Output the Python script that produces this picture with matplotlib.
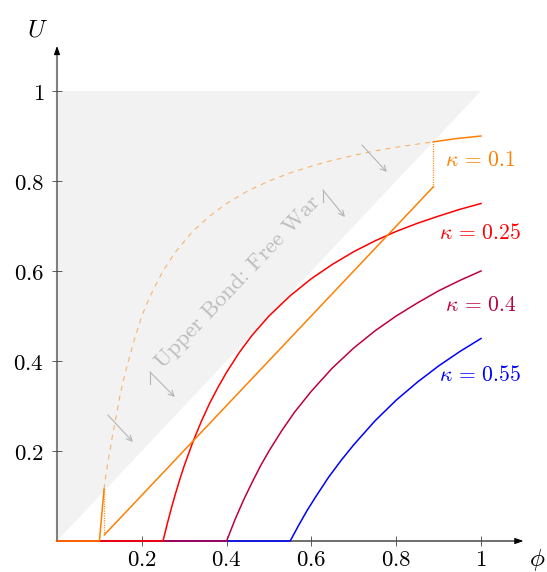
import matplotlib
matplotlib.use('Agg')
import matplotlib.pyplot as plt

plt.rcParams['mathtext.fontset'] = 'cm'

# valori
kappa_labels = [r'$\kappa\,=\,0.1$', r'$\kappa\,=\,0.25$', r'$\kappa\,=\,0.4$', r'$\kappa\,=\,0.55$']
kappa_colors = ['#ff8000', '#ff0000', '#bf0040', '#0000ff']

phi_055 = [0, 0.55, 0.57, 0.59, 0.61, 0.64, 0.67, 0.7, 0.75, 0.8, 0.85, 0.9, 0.95, 1.0]
U_055 = [0, 0, 0.035, 0.068, 0.098, 0.141, 0.179, 0.214, 0.267, 0.313, 0.353, 0.389, 0.421, 0.45]

phi_04 = [0, 0.4, 0.42, 0.44, 0.46, 0.48, 0.5, 0.53, 0.56, 0.6, 0.65, 0.7, 0.75, 0.8, 0.85, 0.9, 0.95, 1.0]
U_04 = [0, 0, 0.048, 0.091, 0.13, 0.167, 0.2, 0.245, 0.286, 0.333, 0.385, 0.429, 0.467, 0.5, 0.529,
        0.556, 0.579, 0.6]

phi_025 = [0, 0.25, 0.26, 0.27, 0.28, 0.29, 0.3, 0.32, 0.34, 0.36, 0.38, 0.4, 0.43, 0.46, 0.5, 0.55,
           0.6, 0.65, 0.7, 0.75, 0.8, 0.85, 0.9, 0.95, 1.0]
U_025 = [0, 0, 0.038, 0.074, 0.107, 0.138, 0.167, 0.219, 0.265, 0.306, 0.342, 0.375, 0.419, 0.457, 0.5,
         0.545, 0.583, 0.615, 0.643, 0.667, 0.688, 0.706, 0.722, 0.737, 0.75]

# kappa = 0.1 : bucati separate
phi_01_start = [0, 0.1, 0.111]
U_01_start = [0, 0, 0.115]
phi_01_line = [0.112, 0.8875]
U_01_line = [0.014, 0.787]
phi_01_end = [0.8875, 0.94, 1.0]
U_01_end = [0.887, 0.894, 0.9]
phi_01_jump1 = [0.111, 0.111]
U_01_jump1 = [0.115, 0.014]
phi_01_jump2 = [0.8875, 0.8875]
U_01_jump2 = [0.787, 0.887]
phi_01_dash = [0.111, 0.115, 0.12, 0.125, 0.13, 0.14, 0.15, 0.16, 0.18, 0.2, 0.22, 0.25, 0.28, 0.32,
               0.36, 0.4, 0.45, 0.5, 0.55, 0.6, 0.65, 0.7, 0.75, 0.8, 0.85, 0.8875]
U_01_dash = [0.115, 0.145, 0.175, 0.2, 0.23, 0.28, 0.33, 0.37, 0.44, 0.5, 0.545, 0.6, 0.643, 0.688,
             0.722, 0.75, 0.778, 0.8, 0.818, 0.833, 0.846, 0.857, 0.867, 0.875, 0.882, 0.887]

# zona gri (limita superioara)
zona_x = [0, 0, 1]
zona_y = [0, 1, 1]

ticks = [0.2, 0.4, 0.6, 0.8, 1]
tick_labels = [r'$0.2$', r'$0.4$', r'$0.6$', r'$0.8$', r'$1$']

fig = plt.figure(figsize=(5.47, 5.72), dpi=100)
ax = fig.add_axes([57/547, 31/572, 466.4/547, 495/572])
ax.set_xlim(0, 1.1)
ax.set_ylim(0, 1.1)

ax.fill(zona_x, zona_y, color='#f2f2f2', lw=0, zorder=0)

lw = 1.1
ax.plot(phi_055, U_055, color=kappa_colors[3], lw=lw, clip_on=False)
ax.plot(phi_04, U_04, color=kappa_colors[2], lw=lw, clip_on=False)
ax.plot(phi_025, U_025, color=kappa_colors[1], lw=lw, clip_on=False)
ax.plot(phi_01_start, U_01_start, color=kappa_colors[0], lw=lw, clip_on=False)
ax.plot(phi_01_line, U_01_line, color=kappa_colors[0], lw=lw)
ax.plot(phi_01_end, U_01_end, color=kappa_colors[0], lw=lw)
ax.plot(phi_01_jump1, U_01_jump1, color=kappa_colors[0], lw=1.0, ls=(0, (0.7, 1.0)))
ax.plot(phi_01_jump2, U_01_jump2, color=kappa_colors[0], lw=1.0, ls=(0, (0.7, 1.0)))
ax.plot(phi_01_dash, U_01_dash, color=kappa_colors[0], lw=0.8, alpha=0.55, ls=(0, (4.5, 4.5)))

# etichete kappa
label_pos = [(0.998, 0.847), (0.999, 0.685), (0.999, 0.524), (0.999, 0.369)]
for (x, y), txt, c in zip(label_pos, kappa_labels, kappa_colors):
    ax.text(x, y, txt, color=c, fontsize=15.5, ha='center', va='center')

# text + sageti
ax.text(0.426, 0.576, 'Upper Bond: Free War', family='cmr10', fontsize=16.3,
        color='#bdbdbd', rotation=46.5, rotation_mode='anchor', ha='center', va='center')
sageti = [((0.120, 0.28), (0.179, 0.22), False),
          ((0.219, 0.376), (0.278, 0.32), True),
          ((0.627, 0.78), (0.679, 0.72), True),
          ((0.719, 0.88), (0.778, 0.82), False)]
for start, end, bara in sageti:
    ax.annotate('', xy=end, xytext=start,
                arrowprops=dict(arrowstyle='->,head_length=0.4,head_width=0.2',
                                color='#b5b5b5', lw=0.8, shrinkA=0, shrinkB=0))
    if bara:
        ax.plot([start[0], start[0]], [start[1], start[1] - 0.027], color='#b5b5b5', lw=0.8)

# axe
for s in ax.spines.values():
    s.set_visible(False)
ax.annotate('', xy=(1.1, 0), xytext=(0, 0),
            arrowprops=dict(arrowstyle='-|>,head_length=0.5,head_width=0.18', color='black',
                            lw=0.8, shrinkA=0, shrinkB=0), zorder=1)
ax.plot([0, 0], [0, 1.09], color='#808080', lw=1.5, clip_on=False, zorder=1)
ax.annotate('', xy=(0, 1.1), xytext=(0, 1.09),
            arrowprops=dict(arrowstyle='-|>,head_length=0.5,head_width=0.18', color='black',
                            lw=0.8, shrinkA=0, shrinkB=0), zorder=1)

ax.set_xticks(ticks)
ax.set_xticklabels(tick_labels)
ax.set_yticks(ticks)
ax.set_yticklabels(tick_labels)
ax.tick_params(direction='inout', length=6.5, width=0.6, color='#444444', labelsize=16.5)
ax.tick_params(axis='y', pad=6)
ax.tick_params(axis='x', pad=2)

ax.text(-0.045, 1.136, r'$U$', fontsize=18, ha='center', va='center')
ax.text(1.132, -0.042, r'$\phi$', fontsize=18, ha='center', va='center')

fig.savefig('out.png', dpi=100)
